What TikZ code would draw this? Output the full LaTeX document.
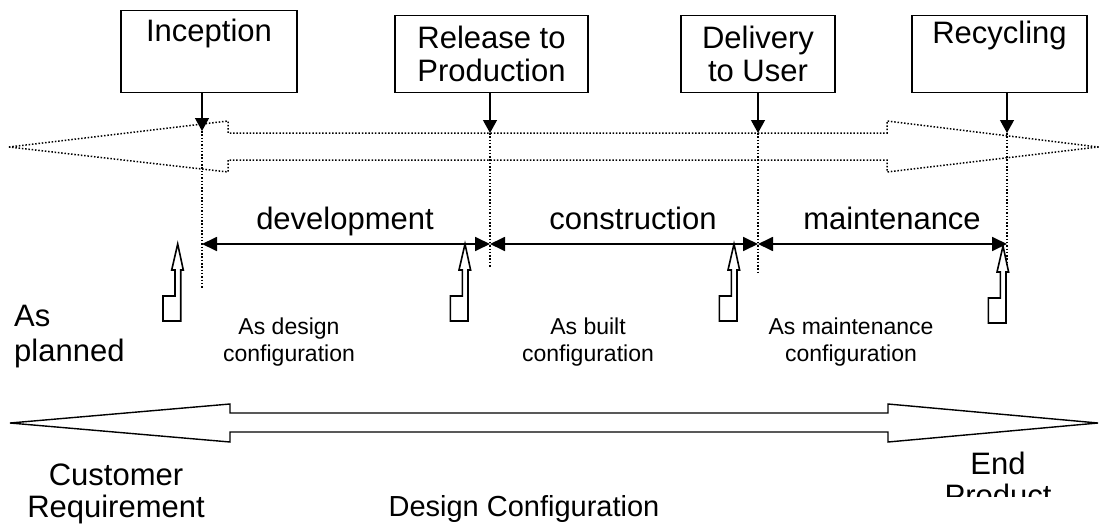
\documentclass[tikz,border=0pt]{standalone}
\usepackage{fontspec}
\setmainfont{Liberation Sans}
\usetikzlibrary{arrows.meta}

\tikzset{
  phasebox/.style={draw, line width=1.3pt, anchor=north, align=center,
    inner sep=0pt, font=\fontsize{31}{33}\selectfont},
  milestone/.style={-{Triangle[length=13pt,width=14pt]}, line width=1.3pt},
  guide/.style={line width=1.5pt, dash pattern=on 1.5pt off 1.8pt},
  span/.style={{Triangle[length=15pt,width=14pt]}-{Triangle[length=15pt,width=14pt]},
    line width=1.8pt},
  phaselabel/.style={anchor=base, font=\fontsize{31}{33}\selectfont},
  marker/.style={line width=1.6pt, fill=white},
  statelabel/.style={anchor=north, align=center, inner sep=0pt,
    font=\fontsize{23}{27}\selectfont},
  biglabel/.style={anchor=north, align=center, inner sep=0pt,
    font=\fontsize{31}{32}\selectfont},
}

% hollow stepped arrow, tip at #1
\newcommand{\asmarker}[1]{%
  \draw[marker] (#1) -- ++(5.6,26) -- ++(-2.6,0) -- ++(0,51) -- ++(-17.7,0)
    -- ++(0,-25) -- ++(12,0) -- ++(0,-26) -- ++(-3.3,0) -- cycle;}

\begin{document}
\begin{tikzpicture}[x=1pt, y=-1pt]
\useasboundingbox (0,0) rectangle (1099,527);

% === Milestone boxes ===
\node[phasebox, minimum width=176pt, minimum height=82pt] (incep) at (209,10) {Inception\\ \strut};
\node[phasebox, minimum width=193pt, minimum height=77pt] (release) at (491.5,15) {Release to\\Production};
\node[phasebox, minimum width=154pt, minimum height=77pt] (deliver) at (758,15) {Delivery\\to User};
\node[phasebox, minimum width=175pt, minimum height=77pt] (recycle) at (999.5,15) {Recycling\\ \strut};

% points where the milestones hit the lifecycle arrow
\coordinate (incep-hit) at (202,131);
\coordinate (release-hit) at (490,133);
\coordinate (deliver-hit) at (758,133);
\coordinate (recycle-hit) at (1007,133);

\draw[milestone] (incep.south -| incep-hit) -- (incep-hit);
\draw[milestone] (release.south -| release-hit) -- (release-hit);
\draw[milestone] (deliver.south -| deliver-hit) -- (deliver-hit);
\draw[milestone] (recycle.south -| recycle-hit) -- (recycle-hit);

% === Lifecycle arrow (dotted) ===
\draw[guide] (9,147) -- (228,121) -- (228,133) -- (887,133) -- (887,121)
    -- (1098,147) -- (887,172) -- (887,160) -- (228,160) -- (228,172) -- cycle;

% vertical guides
\draw[guide] (incep-hit) -- (202,288);
\draw[guide] (release-hit) -- (490,268);
\draw[guide] (deliver-hit) -- (758,273);
\draw[guide] (recycle-hit) -- (1007,268);

% === Phases ===
\coordinate (t0) at (202,244);
\coordinate (t1) at (490,244);
\coordinate (t2) at (758,244);
\coordinate (t3) at (1007,244);

\draw[span] (t0) -- (t1);
\draw[span] (t1) -- (t2);
\draw[span] (t2) -- (t3);

\node[phaselabel] (dev) at (345,229) {development};
\node[phaselabel] (cons) at (633,229) {construction};
\node[phaselabel] (maint) at (892,229) {maintenance};

% === Configuration markers ===
\asmarker{177.7,244}
\asmarker{465,244}
\asmarker{734,244}
\asmarker{1003,246}

\node[anchor=north west, align=left, inner sep=0pt, font=\fontsize{31}{35}\selectfont]
    (planned) at (14,305) {As\\planned};
\node[statelabel] (design) at (289,318) {As design\\configuration};
\node[statelabel] (built) at (588,318) {As built\\configuration};
\node[statelabel] (maintconf) at (851,318) {As maintenance\\configuration};

% === Design configuration arrow ===
\draw[line width=1.4pt] (10,423) -- (230,404) -- (230,413) -- (888,413) -- (888,404)
    -- (1098,423) -- (888,442) -- (888,432) -- (230,432) -- (230,442) -- cycle;

\node[biglabel] (cust) at (116,464) {Customer\\Requirement};
\node[biglabel, font=\fontsize{29}{32}\selectfont] (dconf) at (524,495) {Design Configuration};
\begin{scope}
  \clip (900,440) rectangle (1099,496);
  \node[biglabel] (endprod) at (998,452) {End\\Product};
\end{scope}

\end{tikzpicture}
\end{document}
